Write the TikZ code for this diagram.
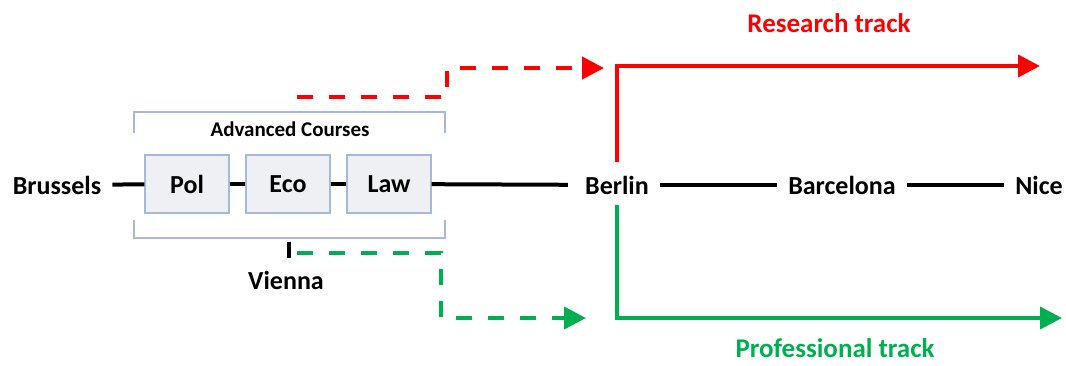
\documentclass[tikz,border=0pt]{standalone}
\usepackage{fontspec}
\setmainfont{Carlito}
\usetikzlibrary{arrows.meta}
\definecolor{trackred}{RGB}{255,0,0}
\definecolor{trackgreen}{RGB}{0,176,80}
\definecolor{boxline}{RGB}{166,185,217}
\definecolor{boxfill}{RGB}{239,240,244}

\begin{document}
\begin{tikzpicture}[x=1pt,y=-1pt,
	city/.style={font=\bfseries\fontsize{26}{30}\selectfont, inner xsep=11pt, inner ysep=0pt},
	course/.style={draw=boxline, line width=1.2pt, fill=boxfill, minimum width=84pt, minimum height=58pt, font=\bfseries\fontsize{26}{30}\selectfont},
	heading/.style={font=\bfseries\fontsize{27}{30}\selectfont, inner sep=0pt},
	link/.style={line width=4pt},
	bracket/.style={draw=boxline, line width=1.5pt},
	track/.style={line width=4pt, -{Triangle[length=22pt,width=22pt]}},
	option/.style={track, dash pattern=on 16pt off 16pt}]
	\useasboundingbox (0,0) rectangle (1066,365);
	\node[city] (brussels) at (57,185) {Brussels};
	\node[course] (pol) at (187,184) {Pol};
	\node[course] (eco) at (288,184) {Eco};
	\node[course] (law) at (389,184) {Law};
	\node[city] (berlin) at (617,185) {Berlin};
	\node[city] (barcelona) at (842,185) {Barcelona};
	\node[city] (nice) at (1039,185) {Nice};
	\node[city] (vienna) at (286,280) {Vienna};
	\node[font=\bfseries\fontsize{21}{24}\selectfont] (advanced) at (290,129) {Advanced Courses};
	\node[heading, text=trackred] (research) at (829,23) {Research track};
	\node[heading, text=trackgreen] (professional) at (835,348) {Professional track};
	% brackets round the courses
	\draw[bracket] (134,133) -- (134,112) -- (445,112) -- (445,133);
	\draw[bracket] (134,220) -- (134,238) -- (445,238) -- (445,220);
	% main line
	\draw[link] (brussels) -- (pol);
	\draw[link] (pol) -- (eco);
	\draw[link] (eco) -- (law);
	\draw[link, shorten >=6pt] (law) -- (berlin);
	\draw[link] (berlin) -- (barcelona);
	\draw[link] (barcelona) -- (nice);
	\coordinate (vtop) at (289,242);
	\coordinate (vbot) at (289,258);
	\draw[line width=4pt] (vtop) -- (vbot);
	% tracks
	\coordinate (rstart) at (297,97);
	\coordinate (pstart) at (297,253);
	\coordinate (rfoot) at ([yshift=23pt]berlin.center);
	\coordinate (pfoot) at ([yshift=-20pt]berlin.center);
	\coordinate (rtip) at (1040,66);
	\coordinate (ptip) at (1062,318);
	\draw[option, trackred] (rstart) -- (447,97) -- (447,68) -- (604,68);
	\draw[option, trackgreen] (pstart) -- (441,253) -- (441,318) -- (586,318);
	\draw[track, trackred] (rfoot) |- (rtip);
	\draw[track, trackgreen] (pfoot) |- (ptip);
\end{tikzpicture}
\end{document}
